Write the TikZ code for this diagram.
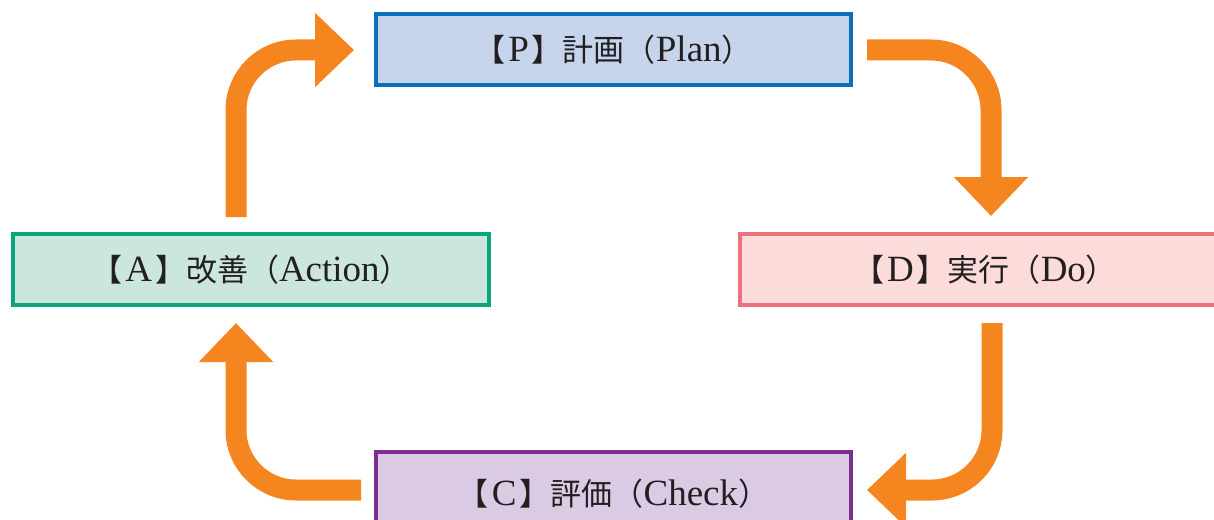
\documentclass[tikz,border=0pt]{standalone}
\usepackage{fontspec}
\setmainfont{Liberation Serif}
\newfontfamily\cjk{Noto Sans CJK JP}
\usetikzlibrary{arrows.meta}
\definecolor{arr}{HTML}{F5861F}
\definecolor{pB}{HTML}{0A70B9}\definecolor{pF}{HTML}{C6D4EC}
\definecolor{aB}{HTML}{0AA57A}\definecolor{aF}{HTML}{CBE6DD}
\definecolor{dB}{HTML}{EE707A}\definecolor{dF}{HTML}{FBDCDA}
\definecolor{cB}{HTML}{7D2E91}\definecolor{cF}{HTML}{DBCAE3}
\definecolor{txt}{HTML}{231F20}
\newcommand\jp[1]{{\cjk\fontsize{31}{31}\selectfont #1}}
\newcommand\gp{\hspace{3pt}}
\tikzset{
  phase/.style={draw=#1B, fill=#1F, line width=4pt, inner sep=0pt, outer sep=0pt,
    text=txt, font=\fontsize{37}{37}\selectfont, minimum height=71pt},
  cyc/.style={draw=arr, line width=21pt, line cap=butt, rounded corners=60pt,
    -{Triangle[length=39pt,width=72pt]}}
}
\begin{document}
\begin{tikzpicture}[x=1pt,y=-1pt]
\useasboundingbox (0,0) rectangle (1214,519);
\clip (0,0) rectangle (1214,519);
\node[phase=p, minimum width=475pt] (P) at (613.5,49.5) {\jp{【}\gp P\gp\jp{】計画（}Plan\jp{）}};
\node[phase=a, minimum width=476pt] (A) at (251,269.5) {\jp{【}\gp A\gp\jp{】改善（}Action\jp{）}};
\node[phase=d, minimum width=480pt, text width=470pt, align=center] (D) at (980,269.5) {\hspace*{10pt}\jp{【}\gp D\gp\jp{】実行（}Do\jp{）}};
\node[phase=c, minimum width=475pt, minimum height=88pt] (C) at (613.5,496) {\raisebox{8pt}{\jp{【}\gp C\gp\jp{】評価（}Check\jp{）}}};
\coordinate (ap0) at (236,217);
\coordinate (ap1) at (236,50);
\coordinate (ap2) at (354,50);
\coordinate (pd0) at (867,50);
\coordinate (pd1) at (991,50);
\coordinate (pd2) at (991,216);
\coordinate (dc0) at (992,323);
\coordinate (dc1) at (992,490);
\coordinate (dc2) at (867,490);
\coordinate (ca0) at (361,490);
\coordinate (ca1) at (236,490);
\coordinate (ca2) at (236,323);
\draw[cyc] (ap0) -- (ap1) -- (ap2);
\draw[cyc] (pd0) -- (pd1) -- (pd2);
\draw[cyc] (dc0) -- (dc1) -- (dc2);
\draw[cyc] (ca0) -- (ca1) -- (ca2);
\end{tikzpicture}
\end{document}
